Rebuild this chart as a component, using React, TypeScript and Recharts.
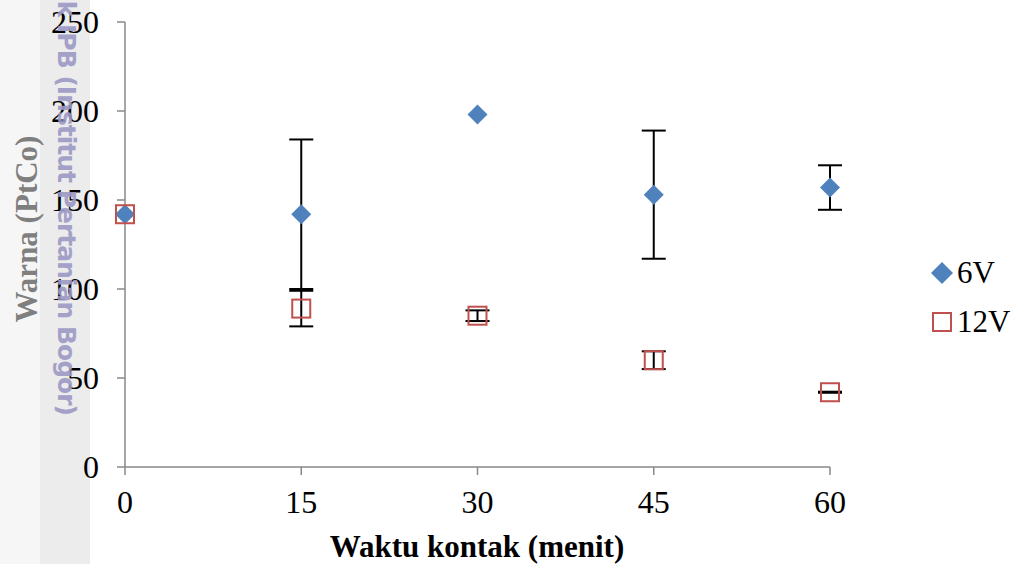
import React from "react";
import { ScatterChart, Scatter, XAxis, YAxis, ErrorBar } from "recharts";

const times = [0, 15, 30, 45, 60];
const v6 = [142, 142, 198, 153, 157];
const v6Err = [0, 42, 0, 36, 12.5];
const v12 = [142, 89, 85, 60, 42];
const v12Err = [0, 10, 3, 5, 0.3];
const xTicks = [0, 15, 30, 45, 60];
const yTicks = [0, 50, 100, 150, 200, 250];

const data6 = times.map((t, i) => ({ t, y: v6[i], err: v6Err[i] }));
const data12 = times.map((t, i) => ({ t, y: v12[i], err: v12Err[i] }));

const serif = "'Liberation Serif', 'Times New Roman', serif";
const axisGray = "#898989";
const blue = "#4f81bd";
const red = "#c0504d";

function Diamond(p: any) {
  const { cx, cy } = p;
  const r = 10;
  return (
    <polygon
      points={`${cx},${cy - r} ${cx + r},${cy} ${cx},${cy + r} ${cx - r},${cy}`}
      fill={blue}
    />
  );
}

function Square(p: any) {
  const { cx, cy } = p;
  return <rect x={cx - 9} y={cy - 9} width={18} height={18} fill="none" stroke={red} strokeWidth={2} />;
}

export default function App() {
  return (
    <div style={{ position: "absolute", left: 0, top: 0, width: 1013, height: 564, background: "#fff", overflow: "hidden" }}>
      <div style={{ position: "absolute", left: 0, top: 0, width: 40, height: 564, background: "#f6f6f6" }} />
      <div style={{ position: "absolute", left: 40, top: 0, width: 50, height: 564, background: "#ececec" }} />
      <div style={{ position: "absolute", left: 0, top: 0 }}>
        <ScatterChart width={1013} height={564} margin={{ top: 22, right: 183, bottom: 0, left: 0 }}>
          <XAxis
            type="number"
            dataKey="t"
            domain={[0, 60]}
            ticks={xTicks}
            interval={0}
            height={97}
            tickSize={8}
            tickMargin={15}
            stroke={axisGray}
            strokeWidth={1.5}
            tick={{ fill: "#000", fontSize: 32, fontFamily: serif }}
          />
          <YAxis
            type="number"
            dataKey="y"
            domain={[0, 250]}
            ticks={yTicks}
            interval={0}
            width={125}
            tickSize={8}
            tickMargin={18}
            stroke={axisGray}
            strokeWidth={1.5}
            tick={{ fill: "#000", fontSize: 32, fontFamily: serif }}
          />
          <Scatter name="6V" data={data6} shape={<Diamond />} isAnimationActive={false}>
            <ErrorBar dataKey="err" direction="y" width={12} stroke="#000" strokeWidth={2} />
          </Scatter>
          <Scatter name="12V" data={data12} shape={<Square />} isAnimationActive={false}>
            <ErrorBar dataKey="err" direction="y" width={12} stroke="#000" strokeWidth={2} />
          </Scatter>
        </ScatterChart>
      </div>
      <svg width={1013} height={564} style={{ position: "absolute", left: 0, top: 0, pointerEvents: "none" }}>
        <text
          x={477}
          y={557}
          textAnchor="middle"
          fontSize={31}
          fontWeight="bold"
          fontFamily={serif}
          fill="#000"
        >
          Waktu kontak (menit)
        </text>
        <text
          transform="translate(37,229) rotate(-90)"
          textAnchor="middle"
          fontSize={31}
          fontWeight="bold"
          fontFamily={serif}
          fill="#7f7f7f"
        >
          Warna (PtCo)
        </text>
        <polygon points="942,262 953,273 942,284 931,273" fill={blue} />
        <text x={957} y={283} fontSize={31} fontFamily={serif} fill="#000">6V</text>
        <rect x={933} y={313} width={18} height={18} fill="none" stroke={red} strokeWidth={2} />
        <text x={957} y={332} fontSize={31} fontFamily={serif} fill="#000">12V</text>
        <text
          transform="translate(58,415) rotate(90)"
          textAnchor="end"
          fontSize={25}
          letterSpacing={-1}
          fontWeight="bold"
          fontFamily="'DejaVu Sans', sans-serif"
          fill="#9d99c6"
          opacity={0.9}
        >
          Hak cipta milik IPB (Institut Pertanian Bogor)
        </text>
      </svg>
    </div>
  );
}
